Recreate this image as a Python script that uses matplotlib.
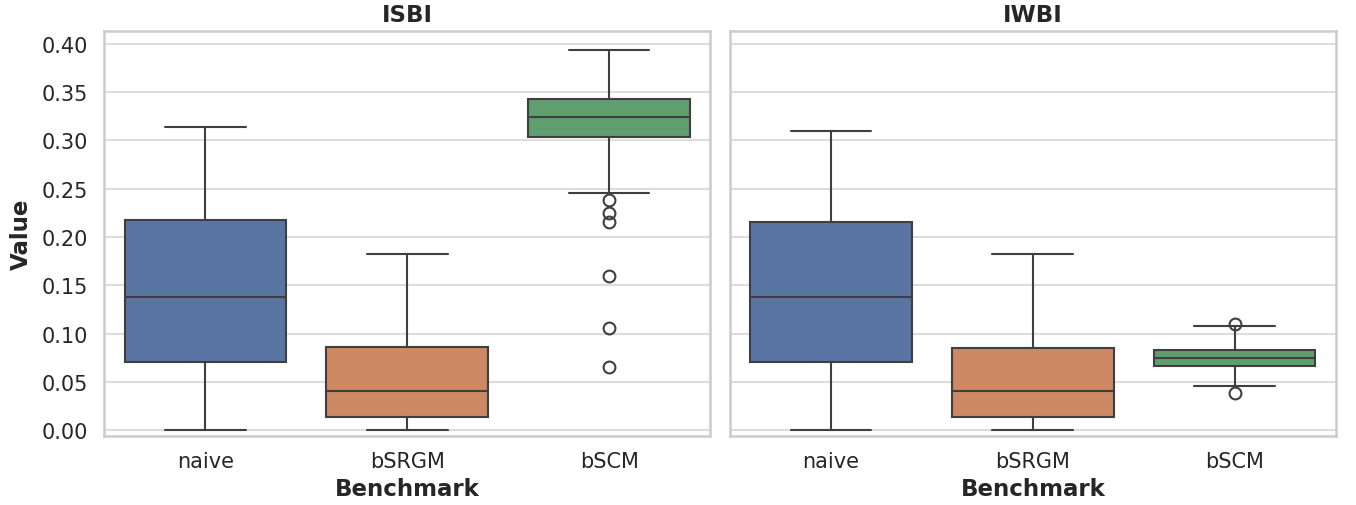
import numpy as np
import matplotlib.pyplot as plt
import seaborn as sns

# benchmark categories and box statistics
benchmarks = ["naive", "bSRGM", "bSCM"]
panels = ["ISBI", "IWBI"]

isbi_low = [0.000, 0.000, 0.2456]
isbi_q1 = [0.0705, 0.0135, 0.3036]
isbi_med = [0.1378, 0.0404, 0.3244]
isbi_q3 = [0.2176, 0.0860, 0.3430]
isbi_high = [0.3140, 0.1824, 0.3938]
isbi_fliers = [[], [], [0.2383, 0.2249, 0.2155, 0.1596, 0.1057, 0.0653]]

iwbi_low = [0.000, 0.000, 0.0456]
iwbi_q1 = [0.0705, 0.0135, 0.0663]
iwbi_med = [0.1378, 0.0404, 0.0746]
iwbi_q3 = [0.2155, 0.0850, 0.0829]
iwbi_high = [0.3098, 0.1824, 0.1078]
iwbi_fliers = [[], [], [0.1098, 0.0383]]

sns.set_theme(style="whitegrid", font_scale=1.2)
colors = sns.color_palette("deep", 3, desat=0.75)
line_color = "#3f3f3f"


def make_stats(low, q1, med, q3, high, fliers):
    return [dict(whislo=a, q1=b, med=c, q3=d, whishi=e, fliers=f, label=n)
            for a, b, c, d, e, f, n in zip(low, q1, med, q3, high, fliers, benchmarks)]


data = {
    "ISBI": make_stats(isbi_low, isbi_q1, isbi_med, isbi_q3, isbi_high, isbi_fliers),
    "IWBI": make_stats(iwbi_low, iwbi_q1, iwbi_med, iwbi_q3, iwbi_high, iwbi_fliers),
}

fig, axes = plt.subplots(1, 2, figsize=(13.56, 5.06), dpi=100, sharey=True)
fig.subplots_adjust(left=0.077, right=0.985, top=0.937, bottom=0.136, wspace=0.033)

for ax, name in zip(axes, panels):
    bp = ax.bxp(data[name], positions=np.arange(len(benchmarks)), widths=0.8,
                patch_artist=True, showfliers=True,
                boxprops=dict(edgecolor=line_color, linewidth=1.5),
                medianprops=dict(color=line_color, linewidth=1.5),
                whiskerprops=dict(color=line_color, linewidth=1.5),
                capprops=dict(color=line_color, linewidth=1.5),
                flierprops=dict(marker="o", markerfacecolor="none",
                                markeredgecolor=line_color, markersize=8.5,
                                markeredgewidth=1.5))
    for patch, c in zip(bp["boxes"], colors):
        patch.set_facecolor(c)
    for cap in bp["caps"]:
        x = cap.get_xdata()
        mid = x.mean()
        cap.set_xdata([mid - 0.2, mid + 0.2])
    ax.set_xlim(-0.5, 2.5)
    ax.set_ylim(-0.0062, 0.4135)
    ax.set_yticks(np.arange(0, 0.41, 0.05))
    ax.grid(axis="x", visible=False)
    ax.grid(axis="y", color="#dddddd", linewidth=1.5)
    ax.set_axisbelow(True)
    for s in ax.spines.values():
        s.set_color("#cccccc")
        s.set_linewidth(1.8)
    ax.set_title(name, fontweight="bold", fontsize=16.5, pad=7)
    ax.set_xlabel("Benchmark", fontweight="bold", fontsize=16.5, labelpad=4)
    ax.tick_params(axis="both", labelsize=15, length=0)
    ax.tick_params(axis="x", pad=11)
    ax.tick_params(axis="y", pad=12)

axes[0].set_ylabel("Value", fontweight="bold", fontsize=16.5, labelpad=6)
axes[0].yaxis.set_major_formatter(plt.FormatStrFormatter("%.2f"))

fig.savefig("out.png")
